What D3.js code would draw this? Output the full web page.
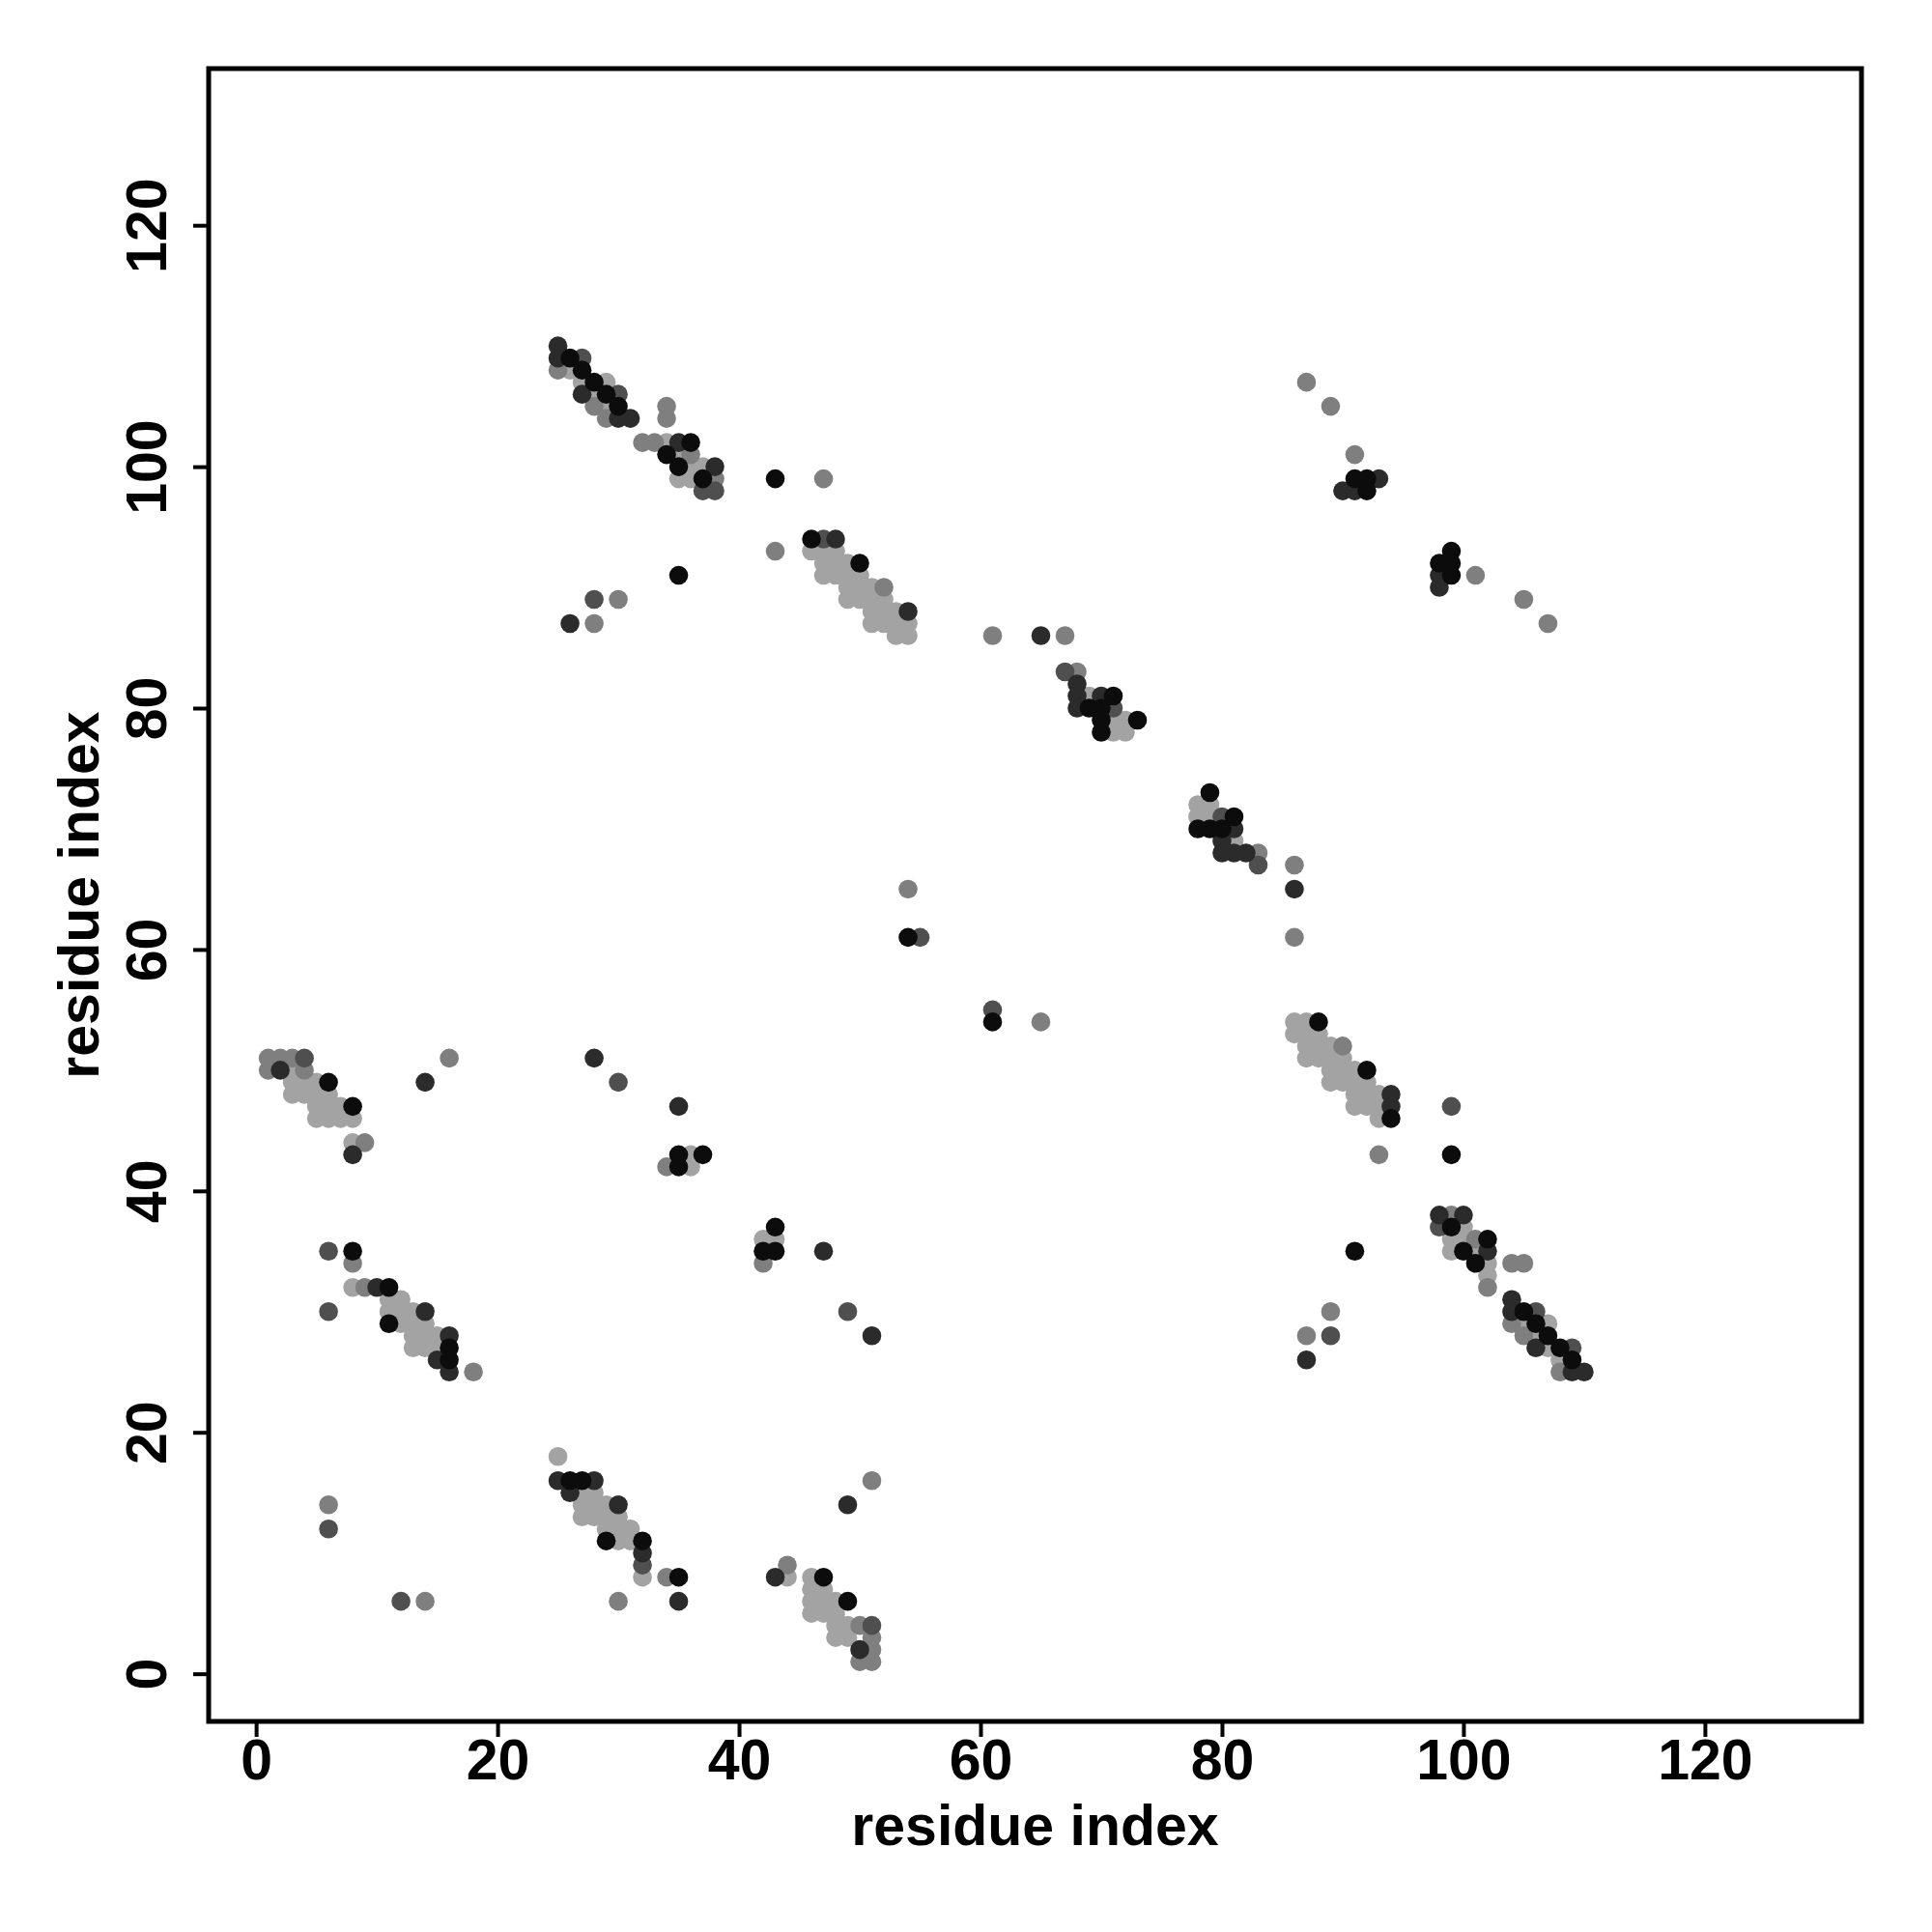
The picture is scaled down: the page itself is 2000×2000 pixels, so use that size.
<!DOCTYPE html>
<html><head><meta charset="utf-8">
<script src="https://cdn.jsdelivr.net/npm/d3@7"></script>
<style>body{margin:0;background:#fff}</style>
</head><body>
<script>
const xTicks = [0, 20, 40, 60, 80, 100, 120];
const yTicks = [0, 20, 40, 60, 80, 100, 120];
const axisTitleX = "residue index";
const axisTitleY = "residue index";

// contact points [residue i, residue j] grouped by grey level
const lightPts = [
  [26,108],[29,107],[27,107],[28,106],[29,105],[34,102],[35,101],[36,100],[37,100],[35,99],[36,99],
  [46,93],[47,93],[48,93],[47,92],[48,92],[49,92],[47,91],[48,91],[49,91],[50,91],[49,90],[50,90],[51,90],
  [49,89],[50,89],[51,89],[52,89],[51,88],[52,88],[53,88],[51,87],[52,87],[53,87],[54,87],[53,86],[54,86],
  [69,81],[71,79],[72,79],[71,78],[72,78],
  [78,72],[79,72],[78,71],[79,71],[81,69],
  [3,50],[3,49],[4,49],[5,49],[3,48],[4,48],[5,48],[6,48],[5,47],[6,47],[7,47],[5,46],[6,46],[7,46],[8,46],[8,44],
  [8,32],[11,31],[12,31],[11,30],[12,30],[13,30],[12,29],[13,29],[14,29],[13,28],[14,28],[15,28],[13,27],[14,27],[15,27],
  [86,54],[87,54],[86,53],[87,53],[88,53],[87,52],[88,52],[89,52],[87,51],[88,51],[89,51],[90,51],[89,50],[90,50],[91,50],
  [89,49],[90,49],[91,49],[92,49],[91,48],[92,48],[93,48],[91,47],[92,47],[93,47],[93,46],
  [100,37],[99,36],[100,36],[99,35],[101,35],[102,34],[102,33],[105,29],[107,29],[106,28],[107,27],[108,26],
  [25,18],[27,15],[28,15],[27,14],[28,14],[29,14],[27,13],[28,13],[29,13],[30,13],[29,12],[30,12],[31,12],[30,11],[31,11],[32,8],
  [44,8],[46,8],[46,7],[47,7],[46,6],[47,6],[48,6],[46,5],[47,5],[48,5],[48,4],[49,4],[48,3],[49,3],
  [36,43],[36,42],[42,36],[43,36]
];
const grayPts = [
  [25,108],[28,105],[29,104],[34,105],[34,104],[32,102],[33,102],[36,101],[38,99],
  [47,99],[43,93],[30,89],[28,87],[52,90],
  [61,86],[67,86],[68,83],[83,68],[86,67],[86,61],
  [87,107],[89,105],[91,101],[101,91],[105,89],[107,87],
  [1,51],[2,51],[3,51],[1,50],[4,50],[9,44],[16,51],
  [8,34],[9,32],[18,25],
  [90,52],[93,43],
  [89,30],[87,28],[99,38],[101,36],[102,32],[104,34],[105,34],[104,29],[105,28],[108,25],
  [6,14],[14,6],[34,8],[30,6],
  [51,16],[44,9],[50,4],[51,3],[51,2],[50,1],[51,1],
  [54,65],[65,54],[34,42],[42,34]
];
const midPts = [
  [27,109],[30,106],[37,98],[38,98],[47,94],[28,89],
  [67,83],[71,80],[80,71],[83,67],
  [4,51],[6,35],[6,30],
  [99,47],[89,28],[98,37],[106,30],[109,27],
  [6,12],[12,6],[32,9],[51,4],
  [55,61],[61,55],[30,49],[49,30]
];
const darkPts = [
  [25,110],[25,109],[27,106],[30,104],[31,104],[35,102],[38,100],[26,87],
  [48,94],[54,88],
  [65,86],[68,82],[68,81],[70,81],[68,80],
  [81,70],[80,69],[80,68],[81,68],[82,68],[86,65],
  [93,99],[90,98],[91,98],[98,91],[98,90],
  [2,50],[8,43],[14,49],
  [10,32],[14,30],[16,28],[15,26],[16,25],
  [94,48],[94,47],
  [87,26],[98,38],[100,38],[102,35],[104,31],[104,30],[106,27],[109,25],[110,25],
  [25,16],[28,16],[26,15],[30,14],[32,10],[35,6],
  [49,14],[43,8],[50,2],
  [28,51],[35,47],[47,35],[51,28]
];
const blackPts = [
  [26,109],[27,108],[28,107],[29,106],[30,105],[36,102],[34,101],[35,100],[37,99],
  [43,99],[35,91],[46,94],[50,92],
  [71,81],[69,80],[70,80],[70,79],[73,79],[70,78],
  [79,73],[81,71],[78,70],[79,70],[80,70],
  [91,99],[92,99],[92,98],[99,93],[98,92],[99,92],[99,91],
  [6,49],[8,47],
  [8,35],[11,32],[11,29],[16,27],[16,26],
  [88,54],[92,50],[94,46],[99,43],
  [91,35],[99,37],[102,36],[100,35],[101,34],[105,30],[106,29],[107,28],[108,27],[109,26],
  [26,16],[27,16],[29,11],[32,11],[35,8],
  [47,8],[49,6],
  [54,61],[61,54],[35,43],[37,43],[35,42],[43,37],[42,35],[43,35]
];

const series = [
  {pts: lightPts, color: "#a3a3a3"},
  {pts: grayPts,  color: "#7f7f7f"},
  {pts: midPts,   color: "#4f4f4f"},
  {pts: darkPts,  color: "#2b2b2b"},
  {pts: blackPts, color: "#0c0c0c"}
];

const W = 2000, H = 2000;
const L = 216, R = 1927, T = 71, B = 1782;
const FONT = "'Liberation Sans', Arial, Helvetica, sans-serif";

const svg = d3.select("body").append("svg").attr("width", W).attr("height", H)
  .style("background", "#fff");

const x = d3.scaleLinear().domain([-3.93, 132.97]).range([L, R]);
const y = d3.scaleLinear().domain([-3.95, 132.98]).range([B, T]);

series.forEach(s => {
  svg.append("g").selectAll("circle").data(s.pts).join("circle")
    .attr("cx", d => x(d[0])).attr("cy", d => y(d[1]))
    .attr("r", 9.8).attr("fill", s.color);
});

// axes
const gx = svg.append("g").attr("transform", `translate(0,${B})`)
  .call(d3.axisBottom(x).tickValues(xTicks).tickSize(16).tickFormat(d3.format("d")));
const gy = svg.append("g").attr("transform", `translate(${L},0)`)
  .call(d3.axisLeft(y).tickValues(yTicks).tickSize(16).tickFormat(d3.format("d")));

[gx, gy].forEach(g => {
  g.select(".domain").remove();
  g.selectAll(".tick line").attr("stroke", "#000").attr("stroke-width", 4);
  g.selectAll(".tick text").attr("fill", "#000")
    .style("font-family", FONT).style("font-weight", "bold").style("font-size", "59px");
});
gx.selectAll(".tick text").attr("y", 60).attr("dy", null);
gy.selectAll(".tick text").attr("x", null).attr("dy", null)
  .attr("text-anchor", "middle").attr("transform", "rotate(-90)").attr("y", -44).attr("x", 0);

// box
svg.append("rect").attr("x", L).attr("y", T).attr("width", R - L).attr("height", B - T)
  .attr("fill", "none").attr("stroke", "#000").attr("stroke-width", 5);

// titles
svg.append("text").attr("x", (L + R) / 2).attr("y", 1910)
  .attr("text-anchor", "middle").style("font-family", FONT).style("font-weight", "bold")
  .style("font-size", "59px").text(axisTitleX);
svg.append("text").attr("transform", `translate(102,${(T + B) / 2}) rotate(-90)`)
  .attr("text-anchor", "middle").style("font-family", FONT).style("font-weight", "bold")
  .style("font-size", "59px").text(axisTitleY);
</script>
</body></html>
